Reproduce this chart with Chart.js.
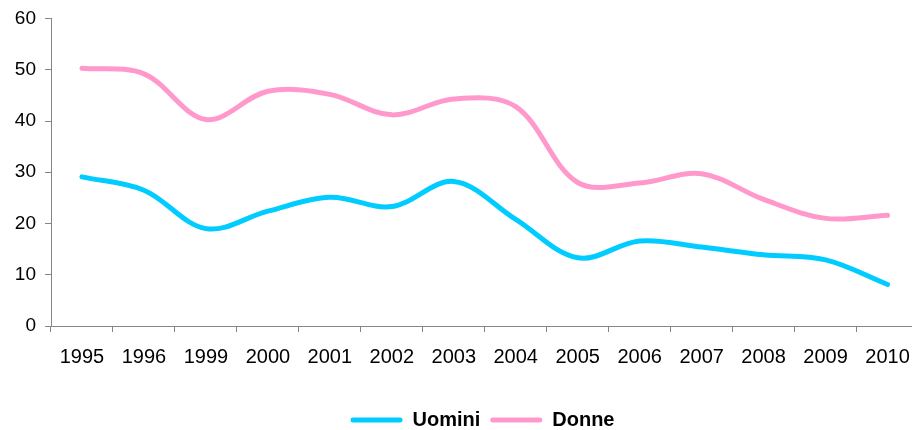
<!DOCTYPE html>
<html>
<head>
<meta charset="utf-8">
<script src="https://cdn.jsdelivr.net/npm/chart.js@4/dist/chart.umd.min.js"></script>
<style>
  html, body { margin: 0; padding: 0; background: #fff; overflow: hidden; }
  #wrap { width: 925px; height: 430px; }
</style>
</head>
<body>
<div id="wrap"><canvas id="trendChart"></canvas></div>
<script>
// anni sull'asse (1997 e 1998 non presenti)
const years = ["1995", "1996", "1999", "2000", "2001", "2002", "2003",
               "2004", "2005", "2006", "2007", "2008", "2009", "2010"];

const uomini = [29.1, 26.5, 19.0, 22.4, 25.1, 23.3, 28.2,
                20.8, 13.3, 16.6, 15.4, 13.9, 12.9, 8.1];

const donne  = [50.3, 49.2, 40.3, 45.8, 45.2, 41.2, 44.3,
                42.8, 28.0, 27.9, 29.7, 24.7, 21.0, 21.6];

const yMin = 0, yMax = 60, yStep = 10;

const AXIS = "#868686";
const FONT = "'Liberation Sans', Arial, sans-serif";

function series(label, data, color) {
    return {
        label,
        data,
        borderColor: color,
        backgroundColor: color,
        borderWidth: 5,
        borderCapStyle: "round",
        borderJoinStyle: "round",
        tension: 0.35,
        pointRadius: 0,
        pointHoverRadius: 0,
        fill: false
    };
}

// nudge the legend a little right of the canvas centre
const legendShift = {
    id: "legendShift",
    afterLayout(chart) {
        chart.legend.left += 46;
    }
};

const ctx = document.getElementById("trendChart").getContext("2d");
new Chart(ctx, {
    type: "line",
    data: {
        labels: years,
        datasets: [
            series("Uomini", uomini, "#00CCFF"),
            series("Donne", donne, "#FF99CC")
        ]
    },
    plugins: [legendShift],
    options: {
        responsive: true,
        maintainAspectRatio: false,
        animation: false,
        layout: { padding: { top: 12, right: 6, bottom: -10, left: 0 } },
        scales: {
            x: {
                offset: true,
                afterFit: scale => { scale.height = 74; },
                grid: {
                    offset: true,
                    drawOnChartArea: false,
                    drawTicks: true,
                    tickLength: 6,
                    color: AXIS
                },
                border: { display: true, color: AXIS, width: 1 },
                ticks: {
                    color: "#000",
                    font: { family: FONT, size: 20, lineHeight: 1 },
                    padding: 15,
                    maxRotation: 0,
                    autoSkip: false
                }
            },
            y: {
                min: yMin,
                max: yMax,
                afterFit: scale => { scale.width = 51; },
                grid: {
                    drawOnChartArea: false,
                    drawTicks: true,
                    tickLength: 6,
                    color: AXIS
                },
                border: { display: true, color: AXIS, width: 1 },
                ticks: {
                    stepSize: yStep,
                    color: "#000",
                    font: { family: FONT, size: 19, lineHeight: 1 },
                    padding: 9
                }
            }
        },
        plugins: {
            tooltip: { enabled: false },
            legend: {
                position: "bottom",
                labels: {
                    color: "#000",
                    font: { family: FONT, size: 20, weight: "bold", lineHeight: 1 },
                    boxWidth: 52,
                    boxHeight: 5,
                    useBorderRadius: true,
                    borderRadius: 2.5,
                    padding: 10,
                    generateLabels: chart =>
                        Chart.defaults.plugins.legend.labels.generateLabels(chart)
                            .map(l => ({ ...l, lineWidth: 0 }))
                }
            }
        }
    }
});
</script>
</body>
</html>
